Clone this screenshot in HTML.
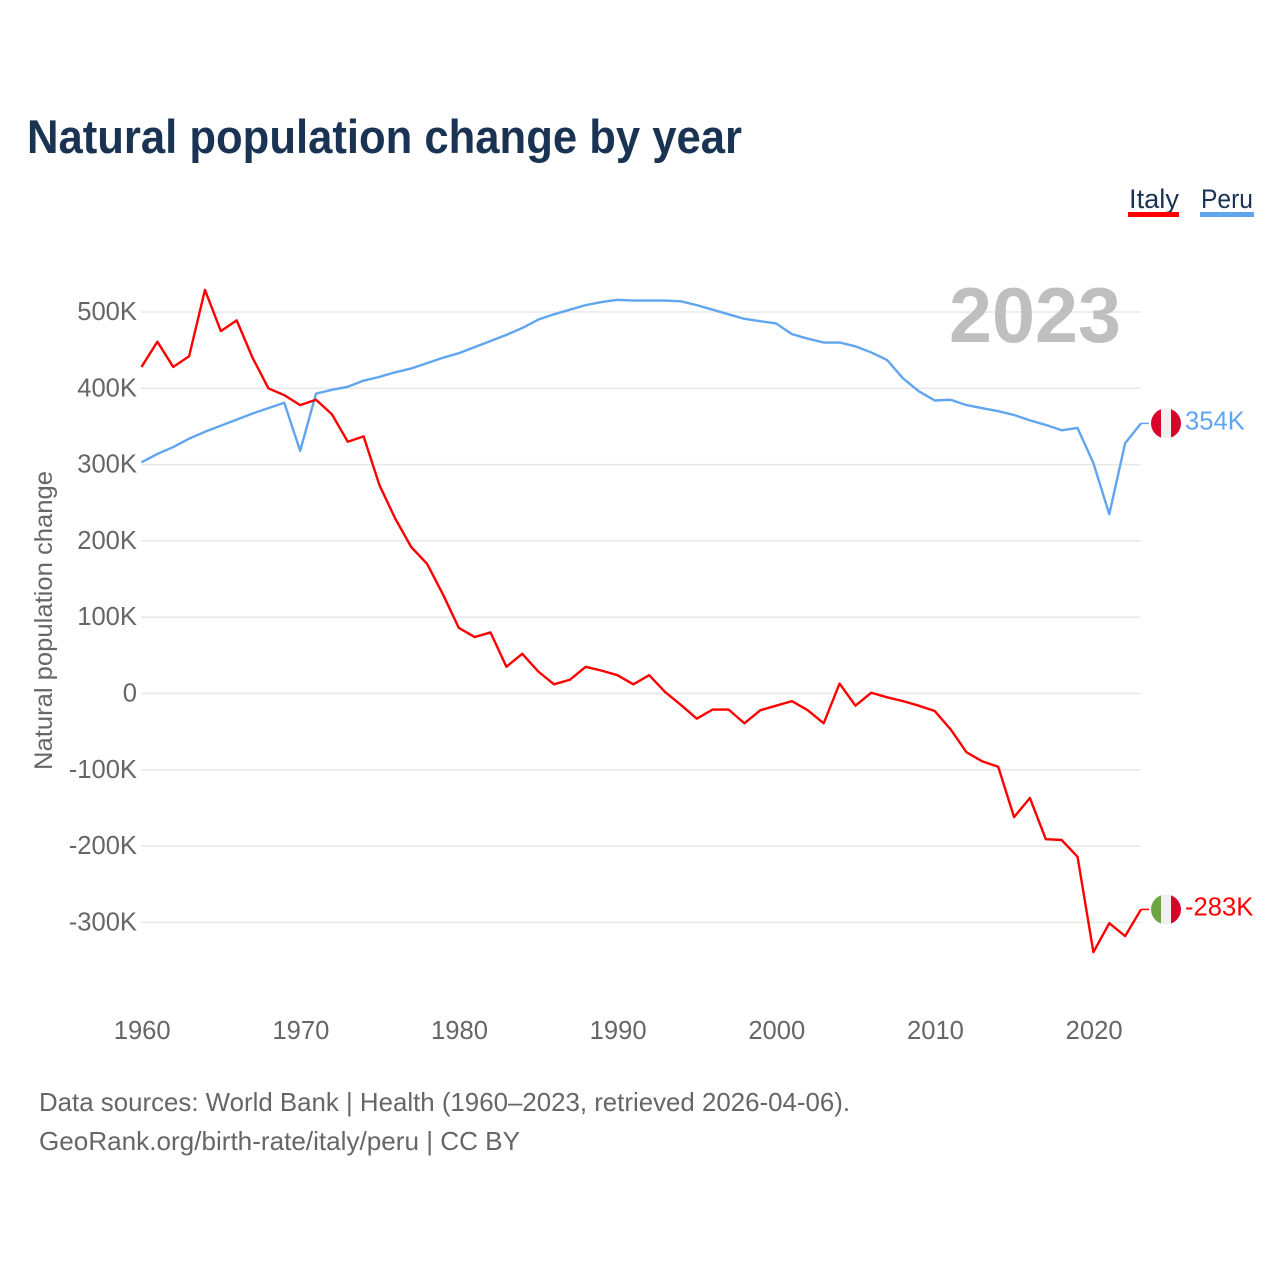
<!DOCTYPE html>
<html lang="en">
<head>
<meta charset="utf-8">
<title>Natural population change by year</title>
<style>
html,body{margin:0;padding:0;background:#fff;width:1280px;height:1280px;overflow:hidden}
svg{display:block}
text{font-family:"Liberation Sans",sans-serif}
</style>
</head>
<body>
<svg id="chart" width="1280" height="1280" viewBox="0 0 1280 1280" xmlns="http://www.w3.org/2000/svg">
  <rect width="1280" height="1280" fill="#fff"/>
  <text x="27" y="153" font-size="47" font-weight="700" fill="#1a3353" textLength="715" lengthAdjust="spacingAndGlyphs">Natural population change by year</text>
  <text x="1129" y="208" font-size="27" fill="#1a3353" textLength="50" lengthAdjust="spacingAndGlyphs">Italy</text>
  <rect x="1128" y="212" width="51" height="5" fill="#ff0000"/>
  <text x="1201" y="208" font-size="27" fill="#1a3353" textLength="52" lengthAdjust="spacingAndGlyphs">Peru</text>
  <rect x="1200" y="212" width="54" height="5" fill="#60a5ef"/>
  <g id="grid"></g>
  <text x="1121" y="342" font-size="78" font-weight="700" fill="#bfbfbf" text-anchor="end" textLength="172" lengthAdjust="spacingAndGlyphs">2023</text>
  <g id="yticks"></g>
  <g id="xticks"></g>
  <text transform="translate(52 620.5) rotate(-90)" font-size="25" fill="#666" text-anchor="middle" textLength="299" lengthAdjust="spacingAndGlyphs">Natural population change</text>
  <g id="series"></g>
  <g id="ends"></g>
  <text x="39" y="1111" font-size="26" fill="#666" textLength="811" lengthAdjust="spacingAndGlyphs">Data sources: World Bank | Health (1960–2023, retrieved 2026-04-06).</text>
  <text x="39" y="1150" font-size="26" fill="#666" textLength="481" lengthAdjust="spacingAndGlyphs">GeoRank.org/birth-rate/italy/peru | CC BY</text>
</svg>
<script>
const startYear = 1960;
const italyValues = [428,461,428,442,529,475,489,440,400,391,378,385,366,330,337,273,229,192,170,130,86,74,80,35,52,29,12,18,35,30,24,12,24,2,-15,-33,-21,-21,-39,-22,-16,-10,-22,-39,13,-16,1,-5,-10,-16,-23,-47,-77,-89,-96,-162,-137,-191,-192,-214,-339,-301,-318,-283];
const peruValues = [303,314,323,334,343,351,359,367,374,381,318,393,398,402,410,415,421,426,433,440,446,454,462,470,479,490,497,503,509,513,516,515,515,515,514,509,503,497,491,488,485,471,465,460,460,455,447,437,413,396,384,385,378,374,370,365,358,352,345,348,302,235,328,354];
const yTickValues = [500,400,300,200,100,0,-100,-200,-300];
const xTickYears = [1960,1970,1980,1990,2000,2010,2020];

const NS = 'http://www.w3.org/2000/svg';
const xScale = function (year) { return 141.5 + (year - 1960) * (1141 - 141.5) / 63; };
const yScale = function (v) { return 693.5 - v * 0.763; };
const fmt = function (v) { return v === 0 ? '0' : v + 'K'; };
const make = function (tag, parent, attrs) {
  const el = document.createElementNS(NS, tag);
  Object.keys(attrs).forEach(function (k) { el.setAttribute(k, attrs[k]); });
  parent.appendChild(el);
  return el;
};

const grid = document.getElementById('grid');
const yticks = document.getElementById('yticks');
yTickValues.forEach(function (v) {
  const line = make('line', grid, {x1: 141, x2: 1141, y1: yScale(v), y2: yScale(v), stroke: '#e8e8e8', 'stroke-width': 1.5});
  
  
  const label = make('text', yticks, {x: 137, y: yScale(v) + 8, 'font-size': 25.6, fill: '#666', 'text-anchor': 'end'});
  
  
  label.textContent = fmt(v);
});

const xticks = document.getElementById('xticks');
xTickYears.forEach(function (year) {
  const label = make('text', xticks, {x: xScale(year) + 0.7, y: 1039, 'font-size': 25.6, fill: '#666', 'text-anchor': 'middle'});
  
  
  label.textContent = String(year);
});

const series = document.getElementById('series');
const ends = document.getElementById('ends');
const drawSeries = function (values, color, key, flagColors) {
  const pts = values.map(function (v, i) { return xScale(startYear + i).toFixed(2) + ',' + yScale(v).toFixed(2); }).join(' ');
  const line = make('polyline', series, {points: pts, fill: 'none', stroke: color, 'stroke-width': 2.4, 'stroke-linejoin': 'round'});
  
  

  const last = values[values.length - 1];
  const lx = xScale(startYear + values.length - 1);
  const ly = yScale(last);
  const stub = make('line', ends, {x1: lx, x2: lx + 8, y1: ly, y2: ly, stroke: color, 'stroke-width': 1.5});
  
  

  const cx = lx + 25;
  const flag = make('g', ends, {});
  
  
  const clipId = 'clip-' + key;
  const clip = make('clipPath', flag, {id: clipId});
  make('circle', clip, {cx: cx, cy: ly, r: 15});
  flagColors.forEach(function (c, i) {
    make('rect', flag, {x: cx - 15 + i * 10, y: ly - 15, width: 10.2, height: 30, fill: c, 'clip-path': 'url(#' + clipId + ')'});
  });

  const label = make('text', ends, {x: cx + 19, y: ly + 6, 'font-size': 25.6, fill: color});
  
  
  label.textContent = fmt(last);
};
drawSeries(peruValues, '#60a5ef', 'peru', ['#d90429', '#f0f0f0', '#d90429']);
drawSeries(italyValues, '#ff0000', 'italy', ['#6da544', '#f0f0f0', '#d90429']);
</script>
</body>
</html>
